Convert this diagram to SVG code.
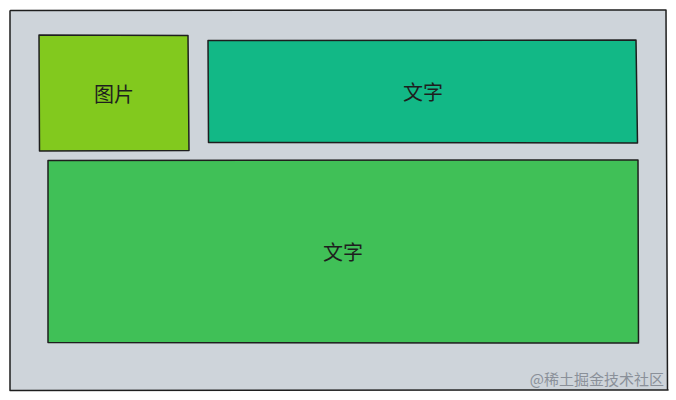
<svg xmlns="http://www.w3.org/2000/svg" width="676" height="400" viewBox="0 0 676 400">
<style>
.box{stroke:#1e1e1e;stroke-width:1.5;stroke-linejoin:round}
.lbl{font-family:"Noto Sans CJK SC","Noto Sans",sans-serif;font-size:20px;fill:#1e1e1e;text-anchor:middle;dominant-baseline:central}
.wm{font-family:"Noto Sans CJK SC","Noto Sans",sans-serif;font-size:15px;fill:#8a9099;text-anchor:end}
</style>
<rect width="676" height="400" fill="#ffffff"/>
<g id="container">
<path class="box" fill="#ced4da" d="M10.5 10.5 L666 10 L667.5 389 L668 390 L10 390.5 L10 11 Z"/>
</g>
<g id="image-node">
<path class="box" fill="#82c91e" d="M39 35 L188 35.5 L189 150.5 L39.5 151 Z"/>
<text class="lbl" x="114" y="93">图片</text>
</g>
<g id="text-node-1">
<path class="box" fill="#12b886" d="M208 40.5 L636 40 L637.5 143 L208.5 142.5 Z"/>
<text class="lbl" x="423" y="91">文字</text>
</g>
<g id="text-node-2">
<path class="box" fill="#40c057" d="M48 160.5 L638 160 L638.5 343 L48 342.5 Z"/>
<text class="lbl" x="343" y="251">文字</text>
</g>
<g id="connectors"></g>
<text class="wm" x="664" y="385">@稀土掘金技术社区</text>
</svg>
